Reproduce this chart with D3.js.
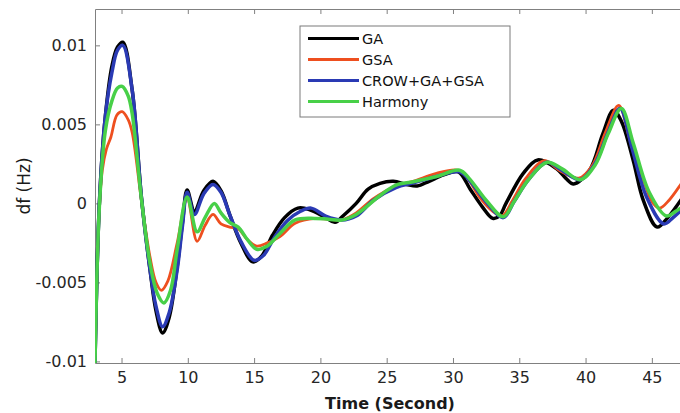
<!DOCTYPE html>
<html>
<head>
<meta charset="utf-8">
<script src="https://cdn.jsdelivr.net/npm/d3@7"></script>
<style>
  body { margin: 0; background: #fff; }
  svg { display: block; font-family: "DejaVu Sans", sans-serif; }
</style>
</head>
<body>
<div id="chart"></div>
<script>
// tick values / labels
const xTicks = [ 5, 10, 15, 20, 25, 30, 35, 40, 45 ];
const yTicks = [ -0.01, -0.005, 0, 0.005, 0.01 ];
const yTickLabels = [ '-0.01', '-0.005', '0', '0.005', '0.01' ];

// series (time in s, df in Hz)
const seriesNames = [ 'GA', 'GSA', 'CROW+GA+GSA', 'Harmony' ];
const seriesColors = [ '#000000', '#ee4f1f', '#2a3ab4', '#48d048' ];

const gaTime = [ 3.0, 3.33, 3.78, 4.28, 4.7, 5.1, 5.8, 6.5, 7.15, 7.6, 8.1, 8.6, 9.2, 9.6, 9.95, 10.5, 11.2, 11.9, 12.5, 13.2, 14.0, 14.9, 15.6, 16.4, 17.3, 18.3, 19.2, 20.4, 21.1, 21.7, 22.7, 23.6, 24.5, 25.5, 26.5, 27.3, 28.2, 29.3, 30.4, 31.3, 32.2, 33.0, 33.5, 34.0, 35.3, 36.4, 37.8, 38.5, 39.1, 40.3, 41.3, 42.1, 42.7, 43.6, 44.35, 45.4, 46.2, 47.5 ];
const gaValue = [ -0.0101, 0.0, 0.0055, 0.0087, 0.0099, 0.0102, 0.0072, 0.0004, -0.0042, -0.0068, -0.0082, -0.0072, -0.004, -0.0012, 0.00085, -0.0005, 0.0008, 0.0014, 0.0008, -0.0008, -0.0025, -0.0037, -0.0033, -0.002, -0.0009, -0.0003, -0.0004, -0.0009, -0.0012, -0.0008, 0.0, 0.0009, 0.00127, 0.0014, 0.0012, 0.0011, 0.0014, 0.0018, 0.0020, 0.0009, -0.0002, -0.00095, -0.0008, 0.0, 0.0019, 0.00275, 0.0022, 0.0016, 0.00123, 0.0021, 0.0044, 0.0059, 0.0052, 0.0027, 0.0002, -0.0015, -0.0009, 0.0006 ];

const gsaTime = [ 3.0, 3.3, 3.55, 3.85, 4.2, 4.66, 5.05, 5.5, 5.8, 6.5, 7.15, 7.6, 8.0, 8.5, 9.2, 9.95, 10.7, 11.3, 11.9, 12.5, 13.15, 13.8, 14.5, 15.2, 16.0, 16.95, 18.1, 19.6, 20.6, 21.6, 22.7, 24.0, 25.7, 27.0, 28.75, 30.3, 31.0, 32.0, 33.0, 33.7, 34.5, 35.5, 36.9, 38.0, 39.5, 40.5, 41.5, 42.5, 43.35, 44.35, 45.1, 45.6, 46.3, 47.5 ];
const gsaValue = [ -0.0101, -0.0008, 0.0021, 0.0034, 0.0042, 0.0056, 0.0058, 0.0053, 0.0045, 0.0002, -0.0034, -0.0050, -0.0055, -0.0049, -0.0025, 0.0003, -0.0024, -0.0014, -0.0007, -0.0013, -0.0015, -0.0016, -0.0023, -0.0027, -0.0025, -0.0021, -0.00126, -0.00095, -0.0010, -0.00105, -0.0006, 0.0003, 0.0011, 0.0014, 0.0019, 0.0021, 0.0017, 0.0004, -0.0005, -0.0008, 0.0002, 0.0016, 0.0027, 0.0021, 0.0016, 0.0024, 0.0045, 0.0062, 0.0040, 0.0015, 0.0000, -0.0003, 0.0002, 0.0016 ];

const crowTime = [ 3.0, 3.33, 3.78, 4.28, 4.7, 5.1, 5.8, 6.5, 7.15, 7.6, 8.1, 8.6, 9.2, 9.6, 9.95, 10.5, 11.2, 11.9, 12.5, 13.2, 14.0, 15.0, 15.7, 16.5, 17.5, 18.5, 19.3, 20.4, 21.6, 22.7, 24.0, 25.7, 27.0, 28.75, 30.5, 31.3, 32.5, 33.8, 34.6, 35.7, 37.1, 38.2, 39.6, 40.7, 41.7, 42.6, 43.5, 44.6, 45.9, 46.6, 47.5 ];
const crowValue = [ -0.0101, 0.0, 0.0055, 0.0083, 0.0097, 0.0100, 0.0072, 0.0004, -0.0042, -0.0065, -0.0078, -0.0069, -0.0042, -0.0014, 0.0007, -0.0007, 0.0006, 0.0012, 0.0007, -0.0008, -0.0024, -0.0036, -0.0033, -0.0022, -0.0011, -0.0005, -0.0003, -0.0008, -0.00105, -0.0008, 0.0002, 0.0010, 0.0013, 0.0017, 0.0020, 0.0014, 0.0001, -0.0009, 0.0001, 0.0015, 0.0026, 0.0021, 0.0015, 0.0025, 0.0045, 0.0060, 0.0035, 0.0004, -0.0013, -0.0009, -0.0002 ];

const harmonyTime = [ 3.0, 3.33, 3.78, 4.28, 4.7, 5.05, 5.5, 5.8, 6.5, 7.15, 7.7, 8.2, 8.7, 9.2, 9.95, 10.7, 11.3, 12.0, 12.5, 13.15, 13.8, 14.5, 15.2, 16.0, 16.95, 18.1, 19.6, 20.6, 21.6, 22.7, 24.5, 25.7, 27.0, 28.75, 30.5, 31.2, 32.5, 33.8, 34.6, 35.7, 37.1, 38.2, 39.6, 40.7, 41.7, 42.7, 43.6, 44.8, 46.1, 46.8, 47.5 ];
const harmonyValue = [ -0.0101, -0.0002, 0.0046, 0.0065, 0.0073, 0.0074, 0.0068, 0.0057, 0.0003, -0.0038, -0.0057, -0.0063, -0.0055, -0.0029, 0.0004, -0.0018, -0.0009, 0.0000, -0.0006, -0.0012, -0.0015, -0.0023, -0.0029, -0.0027, -0.0019, -0.00105, -0.00095, -0.0010, -0.00105, -0.0007, 0.0005, 0.00116, 0.00137, 0.0017, 0.0021, 0.0016, 0.0002, -0.00085, 0.0001, 0.0015, 0.0026, 0.0022, 0.0015, 0.0024, 0.0044, 0.0060, 0.0038, 0.0007, -0.0008, -0.0005, -0.0001 ];

const width = 680, height = 413;
const margin = { left: 95, top: 9, right: -5, bottom: 50 };
const plotW = width - margin.left - margin.right;
const plotH = height - margin.top - margin.bottom;

const svg = d3.select( '#chart' )
  .append( 'svg' )
  .attr( 'width', width )
  .attr( 'height', height );

const x = d3.scaleLinear()
  .domain( [ 3, 47.5 ] )
  .range( [ 0, plotW ] );

const y = d3.scaleLinear()
  .domain( [ -0.0101, 0.0123 ] )
  .range( [ plotH, 0 ] );

const g = svg.append( 'g' )
  .attr( 'transform', `translate(${margin.left},${margin.top})` );

svg.append( 'defs' )
  .append( 'clipPath' )
  .attr( 'id', 'plotClip' )
  .append( 'rect' )
  .attr( 'width', plotW )
  .attr( 'height', plotH );

// axes, MATLAB style: ticks inside the box
const axisColor = '#808080';

g.append( 'g' )
  .attr( 'class', 'x axis' )
  .attr( 'transform', `translate(0,${plotH})` )
  .call( d3.axisBottom( x ).tickValues( xTicks ).tickSizeInner( -5 ).tickSizeOuter( 0 ).tickPadding( 9 ) );

g.append( 'g' )
  .attr( 'class', 'x2 axis' )
  .call( d3.axisTop( x ).tickValues( xTicks ).tickSizeInner( -5 ).tickSizeOuter( 0 ).tickFormat( '' ) );

g.append( 'g' )
  .attr( 'class', 'y axis' )
  .call( d3.axisLeft( y ).tickValues( yTicks ).tickSizeInner( -5 ).tickSizeOuter( 0 ).tickPadding( 8 )
    .tickFormat( ( d, i ) => yTickLabels[ i ] ) );

g.selectAll( '.axis path, .axis line' )
  .attr( 'stroke', axisColor );

g.selectAll( '.axis text' )
  .attr( 'fill', '#262626' )
  .attr( 'font-size', 16 )
  .attr( 'font-family', '"DejaVu Sans", sans-serif' );

// series
const seriesData = [
  d3.zip( gaTime, gaValue ),
  d3.zip( gsaTime, gsaValue ),
  d3.zip( crowTime, crowValue ),
  d3.zip( harmonyTime, harmonyValue )
];

const line = d3.line()
  .x( d => x( d[ 0 ] ) )
  .y( d => y( d[ 1 ] ) )
  .curve( d3.curveCatmullRom.alpha( 0.5 ) );

g.append( 'g' )
  .attr( 'clip-path', 'url(#plotClip)' )
  .selectAll( 'path' )
  .data( seriesData )
  .enter()
  .append( 'path' )
  .attr( 'd', line )
  .attr( 'fill', 'none' )
  .attr( 'stroke', ( d, i ) => seriesColors[ i ] )
  .attr( 'stroke-width', ( d, i ) => i == 1 ? 2.8 : 3.5 )
  .attr( 'stroke-linejoin', 'round' );

// axis titles
svg.append( 'text' )
  .attr( 'x', margin.left + plotW / 2 )
  .attr( 'y', 409 )
  .attr( 'text-anchor', 'middle' )
  .attr( 'font-size', 16 )
  .attr( 'font-weight', 'bold' )
  .attr( 'fill', '#1a1a1a' )
  .text( 'Time (Second)' );

svg.append( 'text' )
  .attr( 'transform', 'translate(30,186) rotate(-90)' )
  .attr( 'text-anchor', 'middle' )
  .attr( 'font-size', 17 )
  .attr( 'fill', '#1a1a1a' )
  .text( 'df (Hz)' );

// legend
const legend = svg.append( 'g' )
  .attr( 'transform', 'translate(300,26)' );

legend.append( 'rect' )
  .attr( 'width', 210 )
  .attr( 'height', 91 )
  .attr( 'fill', '#fff' )
  .attr( 'stroke', '#7a7a7a' )
  .attr( 'stroke-width', 1 );

const item = legend.selectAll( 'g.item' )
  .data( seriesNames )
  .enter()
  .append( 'g' )
  .attr( 'class', 'item' )
  .attr( 'transform', ( d, i ) => `translate(0,${12.5 + i * 21})` );

item.append( 'line' )
  .attr( 'x1', 8 )
  .attr( 'x2', 59 )
  .attr( 'stroke', ( d, i ) => seriesColors[ i ] )
  .attr( 'stroke-width', 3 );

item.append( 'text' )
  .attr( 'x', 62 )
  .attr( 'dy', '0.35em' )
  .attr( 'font-size', 14.5 )
  .attr( 'fill', '#111' )
  .text( d => d );
</script>
</body>
</html>
